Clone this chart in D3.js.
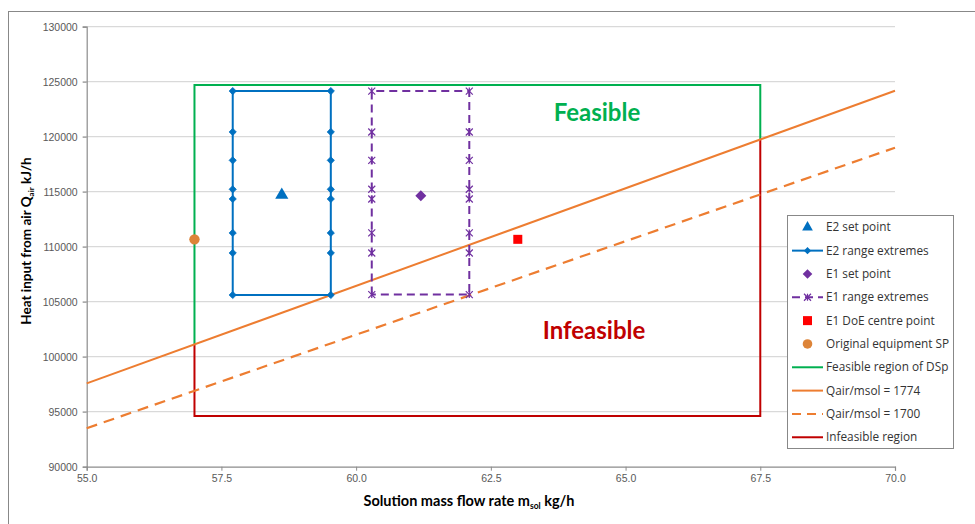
<!DOCTYPE html>
<html><head><meta charset="utf-8">
<script src="https://cdn.jsdelivr.net/npm/d3@7"></script>
<style>
body{margin:0;background:#fff;}
svg{display:block;font-family:Lato,"Open Sans",sans-serif;}
</style></head>
<body><svg id="c" width="975" height="524"></svg>
<script>
// ---- data ----
const xTicks = [55.0, 57.5, 60.0, 62.5, 65.0, 67.5, 70.0];
const yTicks = [90000, 95000, 100000, 105000, 110000, 115000, 120000, 125000, 130000];

const e2SetPoint = [58.62, 114700];
const e2RangeX = [57.71, 59.53];
const e2RangeY = [105610, 109430, 111250, 114340, 115220, 117850, 120430, 124150];

const e1SetPoint = [61.2, 114640];
const e1RangeX = [60.29, 62.10];
const e1RangeY = [105650, 109430, 111250, 114340, 115220, 117850, 120430, 124150];

const e1DoeCentre = [63.0, 110670];
const originalSP = [57.0, 110670];

const feasibleRegion = [[57.0, 101118], [57.0, 124700], [67.5, 124700], [67.5, 119745]];
const infeasibleRegion = [[57.0, 101118], [57.0, 94600], [67.5, 94600], [67.5, 119745]];
const ratio1774 = [[55.0, 97570], [70.0, 124180]];
const ratio1700 = [[55.0, 93500], [70.0, 119000]];

const legendLabels = ["E2 set point", "E2 range extremes", "E1 set point", "E1 range extremes",
  "E1 DoE centre point", "Original equipment SP", "Feasible region of DSp",
  "Qair/msol = 1774", "Qair/msol = 1700", "Infeasible region"];

// ---- colours ----
const BLUE = "#0070c0", PURPLE = "#7030a0", RED = "#ff0000", ORANGE_PT = "#dd8438",
      GREEN = "#00b050", ORANGE = "#ed7d31", DARKRED = "#c00000";

const svg = d3.select("#c");
svg.append("rect").attr("x", 8.5).attr("y", 11.5).attr("width", 975).attr("height", 530)
  .attr("fill", "none").attr("stroke", "#888").attr("stroke-width", 1);

const x = d3.scaleLinear().domain([55, 70]).range([86.7, 895]);
const y = d3.scaleLinear().domain([90000, 130000]).range([466.7, 26.7]);

// gridlines
svg.append("g").selectAll("line").data(yTicks.slice(1)).join("line")
  .attr("x1", x(55) - 4).attr("x2", x(70))
  .attr("y1", d => y(d)).attr("y2", d => y(d))
  .attr("stroke", "#d9d9d9").attr("stroke-width", 1.3);

// axes
const yAxis = svg.append("g").attr("transform", `translate(${x(55)},0)`)
  .call(d3.axisLeft(y).tickValues(yTicks).tickFormat(d3.format("d")).tickSize(4).tickPadding(5));
const xAxis = svg.append("g").attr("transform", `translate(0,${y(90000)})`)
  .call(d3.axisBottom(x).tickValues(xTicks).tickFormat(d3.format(".1f")).tickSize(4).tickPadding(4));
[yAxis, xAxis].forEach(a => {
  a.select(".domain").attr("stroke", "#8c8c8c").attr("stroke-width", 1.2);
  a.selectAll(".tick line").attr("stroke", "#8c8c8c");
  a.selectAll("text").attr("fill", "#595959").attr("font-size", 10.5)
    .attr("font-family", "'Liberation Sans Narrow','Liberation Sans',sans-serif");
});

// axis titles
const yt = svg.append("text").attr("transform", `translate(31,241) rotate(-90)`)
  .attr("text-anchor", "middle").attr("font-weight", "bold").attr("font-size", 13.5).attr("fill", "#000");
yt.append("tspan").text("Heat input from air Q");
yt.append("tspan").attr("font-size", 8).attr("dy", 3).text("air");
yt.append("tspan").attr("dy", -3).text(" kJ/h");

const xt = svg.append("text").attr("x", 469).attr("y", 506)
  .attr("text-anchor", "middle").attr("font-weight", "bold").attr("font-size", 14.5).attr("fill", "#000");
xt.append("tspan").text("Solution mass flow rate m");
xt.append("tspan").attr("font-size", 8.5).attr("dy", 3).text("sol");
xt.append("tspan").attr("dy", -3).text(" kg/h");

const line = d3.line().x(d => x(d[0])).y(d => y(d[1]));

// regions
svg.append("path").attr("d", line(infeasibleRegion)).attr("fill", "none")
  .attr("stroke", DARKRED).attr("stroke-width", 2);
svg.append("path").attr("d", line(feasibleRegion)).attr("fill", "none")
  .attr("stroke", GREEN).attr("stroke-width", 2);

// ratio lines
svg.append("path").attr("d", line(ratio1774)).attr("fill", "none")
  .attr("stroke", ORANGE).attr("stroke-width", 2);
svg.append("path").attr("d", line(ratio1700)).attr("fill", "none")
  .attr("stroke", ORANGE).attr("stroke-width", 2.2).attr("stroke-dasharray", "11,7");

function rangePath(xs, ys) {
  const left = ys.map(v => [xs[0], v]);
  const right = ys.slice().reverse().map(v => [xs[1], v]);
  return left.concat(right, [[xs[0], ys[0]]]);
}
function rangePoints(xs, ys) {
  return ys.map(v => [xs[0], v]).concat(ys.map(v => [xs[1], v]));
}
function diamondPath(r) { return `M0,${-r}L${r},0L0,${r}L${-r},0Z`; }

// E2 range
svg.append("path").attr("d", line(rangePath(e2RangeX, e2RangeY))).attr("fill", "none")
  .attr("stroke", BLUE).attr("stroke-width", 2);
svg.append("g").selectAll("path").data(rangePoints(e2RangeX, e2RangeY)).join("path")
  .attr("d", diamondPath(3.6)).attr("transform", d => `translate(${x(d[0])},${y(d[1])})`)
  .attr("fill", BLUE).attr("stroke", BLUE).attr("stroke-width", 0.8).attr("stroke-linejoin", "round");

// E1 range
svg.append("path").attr("d", line(rangePath(e1RangeX, e1RangeY))).attr("fill", "none")
  .attr("stroke", PURPLE).attr("stroke-width", 2).attr("stroke-dasharray", "8,5");
function starMarker(g, cx, cy, s, col) {
  g.append("path").attr("d", `M${cx - s},${cy - s}L${cx + s},${cy + s}M${cx - s},${cy + s}L${cx + s},${cy - s}M${cx},${cy - s}L${cx},${cy + s}`)
    .attr("stroke", col).attr("stroke-width", 1.2).attr("fill", "none");
}
const e1g = svg.append("g");
rangePoints(e1RangeX, e1RangeY).forEach(d => starMarker(e1g, x(d[0]), y(d[1]), 3.5, PURPLE));

// points
svg.append("path").attr("d", d3.symbol().type(d3.symbolTriangle).size(75)())
  .attr("transform", `translate(${x(e2SetPoint[0])},${y(e2SetPoint[1])})`).attr("fill", BLUE);
svg.append("path").attr("d", diamondPath(5.5))
  .attr("transform", `translate(${x(e1SetPoint[0])},${y(e1SetPoint[1])})`).attr("fill", PURPLE);
svg.append("rect").attr("x", x(e1DoeCentre[0]) - 4.5).attr("y", y(e1DoeCentre[1]) - 4.5)
  .attr("width", 9).attr("height", 9).attr("fill", RED);
svg.append("circle").attr("cx", x(originalSP[0])).attr("cy", y(originalSP[1])).attr("r", 5.2)
  .attr("fill", ORANGE_PT);

// region labels
svg.append("text").attr("x", 597).attr("y", 121).attr("text-anchor", "middle")
  .attr("font-weight", "bold").attr("font-size", 24).attr("fill", GREEN).text("Feasible");
svg.append("text").attr("x", 594).attr("y", 339).attr("text-anchor", "middle")
  .attr("font-weight", "bold").attr("font-size", 24).attr("fill", DARKRED).text("Infeasible");

// legend
const lg = svg.append("g");
lg.append("rect").attr("x", 787.5).attr("y", 215.5).attr("width", 166).attr("height", 233)
  .attr("fill", "#fff").attr("stroke", "#888").attr("stroke-width", 1);
const lx0 = 792, lx1 = 823, lxc = 807.5;
legendLabels.forEach((lab, i) => {
  const cy = 227.3 + i * 23.33;
  const g = lg.append("g");
  const seg = (col, dash) => {
    const l = g.append("line").attr("x1", lx0).attr("x2", lx1).attr("y1", cy).attr("y2", cy)
      .attr("stroke", col).attr("stroke-width", 2);
    if (dash) l.attr("stroke-dasharray", dash);
  };
  if (i === 0) g.append("path").attr("d", d3.symbol().type(d3.symbolTriangle).size(50)())
    .attr("transform", `translate(${lxc},${cy})`).attr("fill", BLUE);
  if (i === 1) {
    seg(BLUE);
    g.append("path").attr("d", diamondPath(3.6)).attr("transform", `translate(${lxc},${cy})`).attr("fill", BLUE);
  }
  if (i === 2) g.append("path").attr("d", diamondPath(4.8)).attr("transform", `translate(${lxc},${cy})`).attr("fill", PURPLE);
  if (i === 3) { seg(PURPLE, "8,5"); starMarker(g, lxc, cy, 3.5, PURPLE); }
  if (i === 4) g.append("rect").attr("x", lxc - 4.5).attr("y", cy - 4.5).attr("width", 9).attr("height", 9).attr("fill", RED);
  if (i === 5) g.append("circle").attr("cx", lxc).attr("cy", cy).attr("r", 4.8).attr("fill", ORANGE_PT);
  if (i === 6) seg(GREEN);
  if (i === 7) seg(ORANGE);
  if (i === 8) seg(ORANGE, "9,6");
  if (i === 9) seg(DARKRED);
  g.append("text").attr("x", 826).attr("y", cy + 4).attr("font-size", 11.8).attr("fill", "#333")
    .attr("font-family", "'Open Sans',Lato,sans-serif").text(lab);
});
</script></body></html>
